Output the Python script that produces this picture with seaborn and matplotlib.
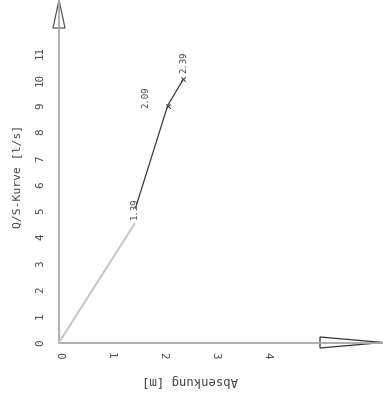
import matplotlib
matplotlib.use("Agg")
import matplotlib.pyplot as plt
from matplotlib.patches import Polygon
import seaborn as sns
import pandas as pd

# ---- data ----
absenkung_lower = [0.0, 1.45]          # m
q_lower = [0.0, 4.5]                   # l/s
absenkung_upper = [1.47, 2.09, 2.39]   # m
q_upper = [5.1, 9.0, 10.0]             # l/s
point_labels = ["1.39", "2.09", "2.39"]
x_ticks = [0, 1, 2, 3, 4]
y_ticks = list(range(12))
x_label = "Absenkung [m]"
y_label = "Q/S-Kurve [l/s]"

sns.set_theme(style="white")
plt.rcParams["font.family"] = ["DejaVu Sans Mono", "DejaVu Sans"]

W, H = 383, 394
fig = plt.figure(figsize=(W / 100, H / 100), dpi=100)
ax = fig.add_axes([0, 0, 1, 1])
ax.set_facecolor("white")

x0_px, y0_px = 59, 342.5
px_x, px_y = 52.0, 26.32
ax.set_xlim(-x0_px / px_x, (W - x0_px) / px_x)
ax.set_ylim(-(H - y0_px) / px_y, y0_px / px_y)

df_low = pd.DataFrame({"s": absenkung_lower, "q": q_lower})
df_up = pd.DataFrame({"s": absenkung_upper, "q": q_upper})
sns.lineplot(data=df_low, x="s", y="q", ax=ax, color="#c8c8c8", lw=1.5, zorder=3)
sns.lineplot(data=df_up, x="s", y="q", ax=ax, color="#3a3a3a", lw=0.9, zorder=4)
sns.scatterplot(data=df_up.iloc[1:], x="s", y="q", ax=ax, marker="x", s=10,
                color="#3a3a3a", linewidth=0.7, zorder=5)

offsets = [(-1, 0), (-21.5, 8), (1, 17)]  # px
for (s, q), lab, (dx, dy) in zip(zip(absenkung_upper, q_upper), point_labels, offsets):
    ax.annotate(lab, (s, q), xytext=(dx * 0.72, dy * 0.72), textcoords="offset points",
                rotation=90, ha="center", va="center", fontsize=6.5, color="#444444")

# axes through the origin
for side in ["top", "right"]:
    ax.spines[side].set_visible(False)
ax.spines["left"].set_position(("data", 0))
ax.spines["bottom"].set_position(("data", 0))
ax.spines["left"].set_bounds(0, y0_px / px_y)
ax.spines["bottom"].set_bounds(0, (W - x0_px) / px_x)
for side in ["left", "bottom"]:
    ax.spines[side].set_color("#a8a8a8")
    ax.spines[side].set_linewidth(1.3)

ax.set_xticks(x_ticks)
ax.set_yticks(y_ticks)
ax.set_xticklabels([str(t) for t in x_ticks])
ax.set_yticklabels([str(t) for t in y_ticks])
ax.tick_params(axis="both", direction="inout", length=8, width=1.0, colors="#a8a8a8",
               labelcolor="#444444", labelsize=7.8)
ax.tick_params(axis="y", labelrotation=90, pad=6)
ax.tick_params(axis="x", labelrotation=-90, pad=3)
for t in ax.get_yticklabels():
    t.set_va("center")
for t in ax.get_xticklabels():
    t.set_ha("center")

ax.set_xlabel(x_label, rotation=180, fontsize=8.8, color="#444444")
ax.xaxis.set_label_coords(190 / W, 1 - 374 / H)
ax.set_ylabel(y_label, rotation=90, fontsize=8.2, color="#444444")
ax.yaxis.set_label_coords(22 / W, 1 - 176 / H)

# hollow arrow heads at the axis ends (pixel positions -> axes fraction)
def pix(x, y):
    return (x / W, 1 - y / H)

ax.add_patch(Polygon([pix(59, 0), pix(53, 28), pix(65, 28)], closed=True, fill=False,
                     edgecolor="#555555", lw=0.9, transform=ax.transAxes, clip_on=False))
ax.add_patch(Polygon([pix(383, 342.5), pix(320, 337), pix(320, 348)], closed=True, fill=False,
                     edgecolor="#333333", lw=0.9, transform=ax.transAxes, clip_on=False))

fig.savefig("out.png", dpi=100)
